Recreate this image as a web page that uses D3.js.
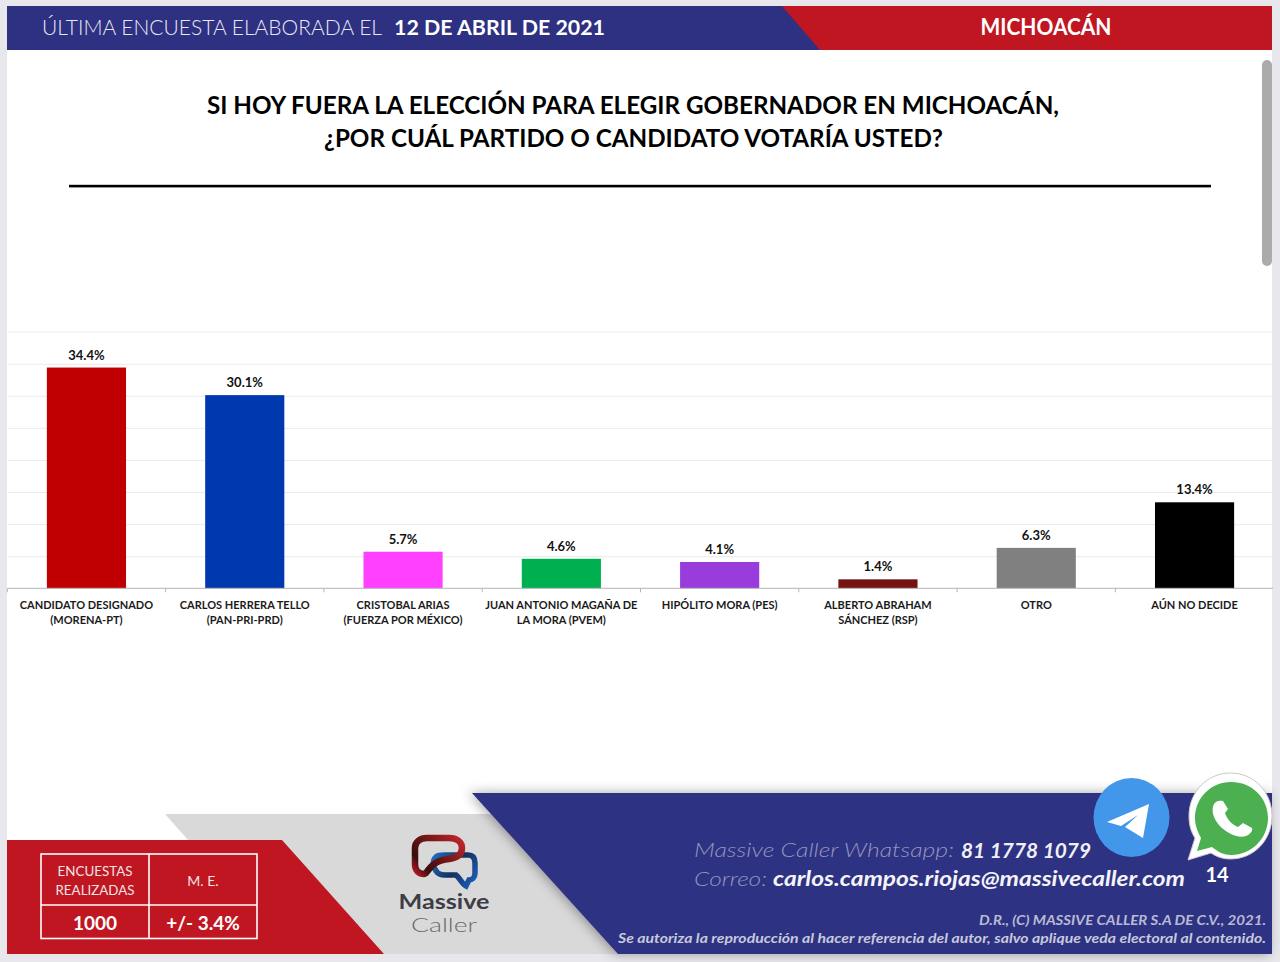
<!DOCTYPE html>
<html><head><meta charset="utf-8">
<script src="https://cdn.jsdelivr.net/npm/d3@7"></script>
<style>html,body{margin:0;padding:0;background:#e7e7ec}svg{display:block}text{font-family:Lato,"Open Sans",sans-serif}</style>
</head><body><svg id="c" width="1280" height="962"></svg>
<script>
const categories=[["CANDIDATO DESIGNADO","(MORENA-PT)"],["CARLOS HERRERA TELLO","(PAN-PRI-PRD)"],["CRISTOBAL ARIAS","(FUERZA POR MÉXICO)"],["JUAN ANTONIO MAGAÑA DE","LA MORA (PVEM)"],["HIPÓLITO MORA (PES)"],["ALBERTO ABRAHAM","SÁNCHEZ (RSP)"],["OTRO"],["AÚN NO DECIDE"]];
const values=[34.4,30.1,5.7,4.6,4.1,1.4,6.3,13.4];
const colors=["#c00000","#0038b0","#ff40ff","#00b050","#983cdc","#751212","#808080","#000000"];
const gridTicks=[0,5,10,15,20,25,30,35,40];
const titleLines=["SI HOY FUERA LA ELECCIÓN PARA ELEGIR GOBERNADOR EN MICHOACÁN,","¿POR CUÁL PARTIDO O CANDIDATO VOTARÍA USTED?"];

const svg=d3.select("#c");
const defs=svg.append("defs");
const sh=defs.append("filter").attr("id","sh").attr("x","-10%").attr("y","-20%").attr("width","120%").attr("height","140%");
sh.append("feDropShadow").attr("dx",-3).attr("dy",0).attr("stdDeviation",6).attr("flood-color","#000").attr("flood-opacity",.35);
const lg=defs.append("linearGradient").attr("id","lgR").attr("gradientUnits","userSpaceOnUse").attr("x1",415).attr("x2",462).attr("y1",880).attr("y2",838);
lg.append("stop").attr("offset",0).attr("stop-color","#e0202c");lg.append("stop").attr("offset",.25).attr("stop-color","#3a0d0d");lg.append("stop").attr("offset",.7).attr("stop-color","#8a1a1a");lg.append("stop").attr("offset",1).attr("stop-color","#c1272d");
const lb=defs.append("linearGradient").attr("id","lgB").attr("gradientUnits","userSpaceOnUse").attr("x1",432).attr("x2",476).attr("y1",855).attr("y2",885);
lb.append("stop").attr("offset",0).attr("stop-color","#1f6fc4");lb.append("stop").attr("offset",.5).attr("stop-color","#12305c");lb.append("stop").attr("offset",1).attr("stop-color","#1c62c0");

const poly=(pts,fill,extra)=>{const p=svg.append("polygon").attr("points",pts.map(d=>d.join(",")).join(" ")).attr("fill",fill);if(extra)p.attr("filter",extra);return p;};
const txt=(x,y,s,size,fill,opt={})=>{const t=svg.append("text").attr("x",x).attr("y",y).attr("font-size",size).attr("fill",fill).attr("text-anchor",opt.anchor||"start").attr("font-weight",opt.weight||400).attr("font-style",opt.style||"normal").text(s);if(opt.len){t.attr("textLength",opt.len).attr("lengthAdjust","spacingAndGlyphs");}return t;};

// page
svg.append("rect").attr("x",7).attr("y",6).attr("width",1265).attr("height",948).attr("fill","#fff");
// header
svg.append("rect").attr("x",7).attr("y",6).attr("width",1265).attr("height",44).attr("fill","#2e3082");
poly([[782,6],[1272,6],[1272,50],[820,50]],"#bf1622");
txt(42,35,"ÚLTIMA ENCUESTA ELABORADA EL",21,"#e8e8f2",{len:340,weight:300});
txt(394,35,"12 DE ABRIL DE 2021",21,"#fff",{weight:700,len:211});
txt(1046,35,"MICHOACÁN",22,"#fff",{weight:700,anchor:"middle",len:131});

// title
const titleX=[[207,852],[324,619]];
titleLines.forEach((s,i)=>txt(titleX[i][0],114+i*33,s,25,"#000",{weight:700,len:titleX[i][1]}));
svg.append("rect").attr("x",69).attr("y",184.8).attr("width",1142).attr("height",2.6).attr("fill","#000");

// scrollbar
svg.append("rect").attr("x",1262).attr("y",60).attr("width",10).attr("height",206).attr("rx",5).attr("fill","#ababab");

// chart
const x=d3.scaleBand().domain(d3.range(values.length)).range([7.3,1273.7]).paddingInner(.5).paddingOuter(.25);
const y=d3.scaleLinear().domain([0,40]).range([588.3,331.6]);
const edges=d3.range(values.length).map(i=>x(i)-x.step()*.25);

const grid=svg.append("g").attr("transform","translate(7.3,0)").call(d3.axisLeft(y).tickValues(gridTicks.slice(1)).tickSize(-1266).tickFormat(""));
grid.select(".domain").remove();
grid.selectAll("line").attr("stroke","#eaeaea").attr("stroke-width",1);

svg.selectAll("rect.bar").data(values).join("rect").attr("class","bar")
 .attr("x",(d,i)=>x(i)).attr("width",x.bandwidth()).attr("y",d=>y(d)).attr("height",d=>y(0)-y(d)).attr("fill",(d,i)=>colors[i]);

svg.append("line").attr("x1",7.3).attr("x2",1273).attr("y1",y(0)).attr("y2",y(0)).attr("stroke","#b5b5b5").attr("stroke-width",1);
svg.selectAll("line.tk").data(edges).join("line").attr("class","tk").attr("x1",d=>d).attr("x2",d=>d).attr("y1",y(0)).attr("y2",y(0)+4).attr("stroke","#b5b5b5");

svg.selectAll("text.val").data(values).join("text").attr("class","val")
 .attr("x",(d,i)=>x(i)+x.bandwidth()/2).attr("y",d=>y(d)-8).attr("text-anchor","middle")
 .attr("font-size",13).attr("font-weight",700).attr("fill","#111").text(d=>d.toFixed(1)+"%");

categories.forEach((lines,i)=>lines.forEach((s,k)=>{
 svg.append("text").attr("x",x(i)+x.bandwidth()/2).attr("y",609+k*15).attr("text-anchor","middle")
  .attr("font-size",11).attr("font-weight",700).attr("fill","#1a1a1a").text(s);
}));

// footer
poly([[165,814],[560,814],[640,954],[384,954],[188,840]],"#d9d9d9");
poly([[7,840],[282,840],[384,954],[7,954]],"#bf1622");
poly([[472,793],[1272,793],[1272,954],[618,954]],"#2e3082","url(#sh)");

// table
const T=svg.append("g").attr("stroke","#fff").attr("fill","none").attr("stroke-width",1.6);
T.append("rect").attr("x",41).attr("y",854).attr("width",216).attr("height",84.5);
T.append("line").attr("x1",149).attr("x2",149).attr("y1",854).attr("y2",938.5);
T.append("line").attr("x1",41).attr("x2",257).attr("y1",905).attr("y2",905);
txt(95,876,"ENCUESTAS",14,"#f3e3e3",{anchor:"middle",len:75});
txt(95,895,"REALIZADAS",14,"#f3e3e3",{anchor:"middle",len:79});
txt(203,886,"M. E.",14,"#f3e3e3",{anchor:"middle"});
txt(95,930,"1000",19,"#fff",{anchor:"middle",weight:700});
txt(203,930,"+/- 3.4%",19,"#fff",{anchor:"middle",weight:700});

// logo
svg.append("path").attr("d","M437 872 C433 868 432 862 435 858 C437 855 440 855 444 855 L468 855 C473 855 475 858 475 863 L475 873 C475 878 472 880 469 880 L466 886 C462 884 460 878 456 875 L445 875 C441 875 438 874 436 871").attr("fill","none").attr("stroke","url(#lgB)").attr("stroke-width",5.5).attr("stroke-linecap","round");
svg.append("path").attr("d","M424 874 C418 874 415 870 415 864 L415 848 C415 842 420 838 427 838 L449 838 C457 838 462 842 462 848 C462 855 456 858 449 859 C438 860 432 864 426 873").attr("fill","none").attr("stroke","url(#lgR)").attr("stroke-width",6.5).attr("stroke-linecap","round");
txt(444,909,"Massive",20,"#3d3d45",{anchor:"middle",weight:700,len:91});
txt(444,932,"Caller",19,"#6a6a70",{anchor:"middle",weight:300,len:66});

// contact
txt(694,857,"Massive Caller Whatsapp:",20,"#9496bd",{style:"italic",weight:300,len:260});
txt(961,858,"81 1778 1079",20,"#f0f0f6",{style:"italic",weight:700,len:130});
txt(694,886,"Correo:",20,"#9496bd",{style:"italic",weight:300,len:73});
txt(773,886,"carlos.campos.riojas@massivecaller.com",20,"#f4f4f8",{style:"italic",weight:700,len:412});
txt(1217,882,"14",20,"#fff",{anchor:"middle",weight:700});
txt(1266,925,"D.R., (C) MASSIVE CALLER S.A DE C.V., 2021.",13,"#b9bad4",{anchor:"end",style:"italic",weight:700,len:287});
txt(1266,943,"Se autoriza la reproducción al hacer referencia del autor, salvo aplique veda electoral al contenido.",13,"#c8c9dc",{anchor:"end",style:"italic",weight:700,len:648});

// telegram
svg.append("ellipse").attr("cx",1131.5).attr("cy",817.5).attr("rx",38).attr("ry",39.5).attr("fill","#4397ea");
poly([[1107,822],[1149,804],[1143,838],[1125,827],[1138,815],[1121,826]],"#fff");
// whatsapp
svg.append("path").attr("d","M1230.5 773 C1207 773 1189 792 1189 816 C1189 825 1191 832 1195 838 L1188 860 L1211 853 C1217 857 1223 859 1230.5 859 C1254 859 1272 840 1272 816 C1272 792 1254 773 1230.5 773 Z").attr("fill","#fff").attr("stroke","#c9c9c9");
svg.append("path").attr("d","M1231 782 C1211 782 1195 798 1195 818 C1195 826 1198 832 1201 838 L1197 851 L1212 847 C1218 852 1224 855 1231 855 C1252 855 1268 838 1268 818 C1268 798 1252 782 1231 782 Z").attr("fill","#4caf50");
svg.append("path").attr("d","M1214 804 C1211 810 1213 818 1219 825 C1226 833 1238 839 1246 836 C1251 834 1253 830 1252 828 L1243 823 L1238 827 C1232 825 1227 819 1225 813 L1228 809 L1223 801 C1219 800 1216 801 1214 804 Z").attr("fill","#fff");
</script></body></html>
